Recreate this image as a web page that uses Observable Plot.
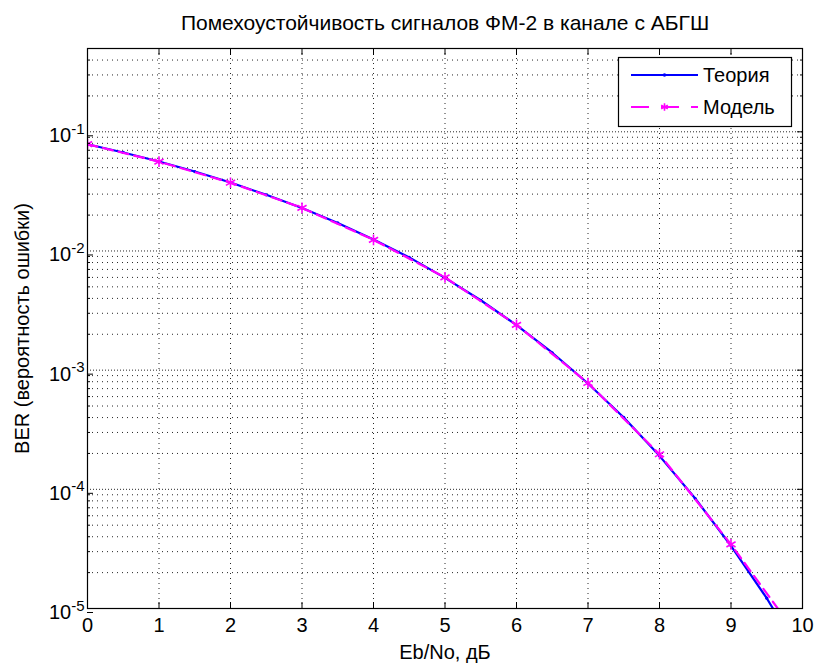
<!DOCTYPE html>
<html>
<head>
<meta charset="utf-8">
<script src="https://cdn.jsdelivr.net/npm/d3@7"></script>
<script src="https://cdn.jsdelivr.net/npm/@observablehq/plot@0.6"></script>
<style>
  html, body { margin: 0; padding: 0; background: #fff; }
  #chart svg { display: block; }
</style>
</head>
<body>
<div id="chart"></div>
<script>
// Theoretical BER of BPSK (ФМ-2) over AWGN, sampled every 0.5 dB
const ebnoTheory = [0, 0.5, 1, 1.5, 2, 2.5, 3, 3.5, 4, 4.5, 5, 5.5, 6, 6.5, 7, 7.5, 8, 8.5, 9, 9.5, 10];
const berTheory = [0.0786, 0.0671, 0.0563, 0.0464, 0.0375, 0.0296, 0.0229, 0.0172, 0.0125, 0.00883,
  0.00595, 0.00386, 0.00239, 0.00140, 0.000773, 0.000401, 0.000191, 0.0000837, 0.0000336, 0.0000122, 0.00000387];

// Simulated BER, one point per dB
const ebnoModel = [0, 1, 2, 3, 4, 5, 6, 7, 8, 9, 10];
const berModel = [0.0787, 0.0562, 0.0374, 0.0230, 0.0124, 0.0060, 0.00240, 0.000780, 0.000197, 0.0000345, 0.0000052];

// Axis ticks
const xTicks = [0, 1, 2, 3, 4, 5, 6, 7, 8, 9, 10];
const yDecades = [1e-5, 1e-4, 1e-3, 1e-2, 1e-1];
const yMinor = [];
for (const d of yDecades) for (let m = 2; m <= 9; m++) if (d * m <= 0.5) yMinor.push(d * m);

const titleText = "Помехоустойчивость сигналов ФМ-2 в канале с АБГШ";
const xLabel = "Eb/No, дБ";
const yLabel = "BER (вероятность ошибки)";
const legendItems = ["Теория", "Модель"];

const theory = ebnoTheory.map((x, i) => ({x, y: berTheory[i]}));
const model = ebnoModel.map((x, i) => ({x, y: berModel[i]}));

const font = "'Liberation Sans', Arial, Helvetica, sans-serif";
const BLUE = "#0000ff", MAGENTA = "#ff00ff";
const gridColor = "#000";
const noLabel = () => "";

const chart = Plot.plot({
  width: 815,
  height: 666,
  marginLeft: 87,
  marginRight: 13,
  marginTop: 48,
  marginBottom: 58,
  style: {fontFamily: font, fontSize: "20px", color: "black", background: "white"},
  x: {domain: [0, 10]},
  y: {type: "log", domain: [1e-5, 0.5]},
  marks: [
    // dotted grid
    Plot.ruleX(xTicks.slice(1, -1), {stroke: gridColor, strokeDasharray: "1,4", strokeWidth: 1, strokeOpacity: 0.85}),
    Plot.ruleY(yMinor, {stroke: gridColor, strokeDasharray: "1,4", strokeWidth: 1, strokeOpacity: 0.85}),
    Plot.ruleY(yDecades.slice(1), {stroke: gridColor, strokeDasharray: "1,2", strokeWidth: 1, strokeOpacity: 0.85}),
    // curves
    Plot.line(theory, {x: "x", y: "y", stroke: BLUE, strokeWidth: 2.2, clip: true}),
    Plot.dot(theory, {x: "x", y: "y", r: 1.6, fill: BLUE, clip: true}),
    Plot.line(model, {x: "x", y: "y", stroke: MAGENTA, strokeWidth: 2.2, strokeDasharray: "10,6", clip: true}),
    Plot.dot(model, {x: "x", y: "y", symbol: "asterisk", r: 5, stroke: MAGENTA, strokeWidth: 1.6, clip: true}),
    // box and inward ticks
    Plot.frame({stroke: "black", strokeWidth: 1.2}),
    Plot.axisX({anchor: "bottom", ticks: xTicks, tickSize: -6, tickPadding: 15, tickFormat: d => String(d), label: null, fontSize: 20}),
    Plot.axisX({anchor: "top", ticks: xTicks, tickSize: -6, tickFormat: noLabel, label: null}),
    Plot.axisY({anchor: "left", ticks: yDecades, tickSize: -6, tickPadding: 9, dy: 4,
      tickFormat: d => "e" + Math.round(Math.log10(d)), label: null, fontSize: 20}),
    Plot.axisY({anchor: "left", ticks: yMinor, tickSize: -3, tickFormat: noLabel, label: null}),
    Plot.axisY({anchor: "right", ticks: yDecades, tickSize: -6, tickFormat: noLabel, label: null}),
    Plot.axisY({anchor: "right", ticks: yMinor, tickSize: -3, tickFormat: noLabel, label: null}),
    // title and axis labels
    Plot.text([titleText], {frameAnchor: "top", dy: -33, fontSize: 21, fill: "black"}),
    Plot.text([xLabel], {frameAnchor: "bottom", dy: 50, fontSize: 20, fill: "black"}),
    Plot.text([yLabel], {frameAnchor: "left", textAnchor: "middle", dx: -65, rotate: -90, fontSize: 20, fill: "black"})
  ]
});

// Drop the empty labels of tick-only axes
d3.select(chart).selectAll("text").filter(function () { return this.textContent === ""; }).remove();

// Decade labels as 10 with a raised exponent
d3.select(chart).selectAll('g[aria-label="y-axis tick label"] text').each(function () {
  const t = d3.select(this);
  const s = t.text();
  if (!s.startsWith("e")) return;
  t.text(null);
  t.append("tspan").text("10");
  t.append("tspan").attr("dy", "-0.55em").attr("font-size", 15).text(s.slice(1));
});

// Legend box in the upper right corner
const lg = d3.select(chart).append("g")
  .attr("font-family", font).attr("font-size", 20).attr("text-anchor", "start");
lg.append("rect").attr("x", 618.5).attr("y", 57.5).attr("width", 173).attr("height", 69)
  .attr("fill", "white").attr("stroke", "black").attr("stroke-width", 1.2);
lg.append("line").attr("x1", 631).attr("x2", 698).attr("y1", 75).attr("y2", 75)
  .attr("stroke", BLUE).attr("stroke-width", 2.2);
lg.append("circle").attr("cx", 664.5).attr("cy", 75).attr("r", 1.8).attr("fill", BLUE);
lg.append("line").attr("x1", 631).attr("x2", 698).attr("y1", 107).attr("y2", 107)
  .attr("stroke", MAGENTA).attr("stroke-width", 2.2).attr("stroke-dasharray", "18,12");
lg.append("path").attr("transform", "translate(664.5,107)")
  .attr("d", d3.symbol(d3.symbolAsterisk, 40)())
  .attr("fill", "none").attr("stroke", MAGENTA).attr("stroke-width", 1.6);
lg.append("text").attr("x", 703).attr("y", 82).attr("fill", "black").text(legendItems[0]);
lg.append("text").attr("x", 703).attr("y", 114).attr("fill", "black").text(legendItems[1]);

document.getElementById("chart").appendChild(chart);
</script>
</body>
</html>
